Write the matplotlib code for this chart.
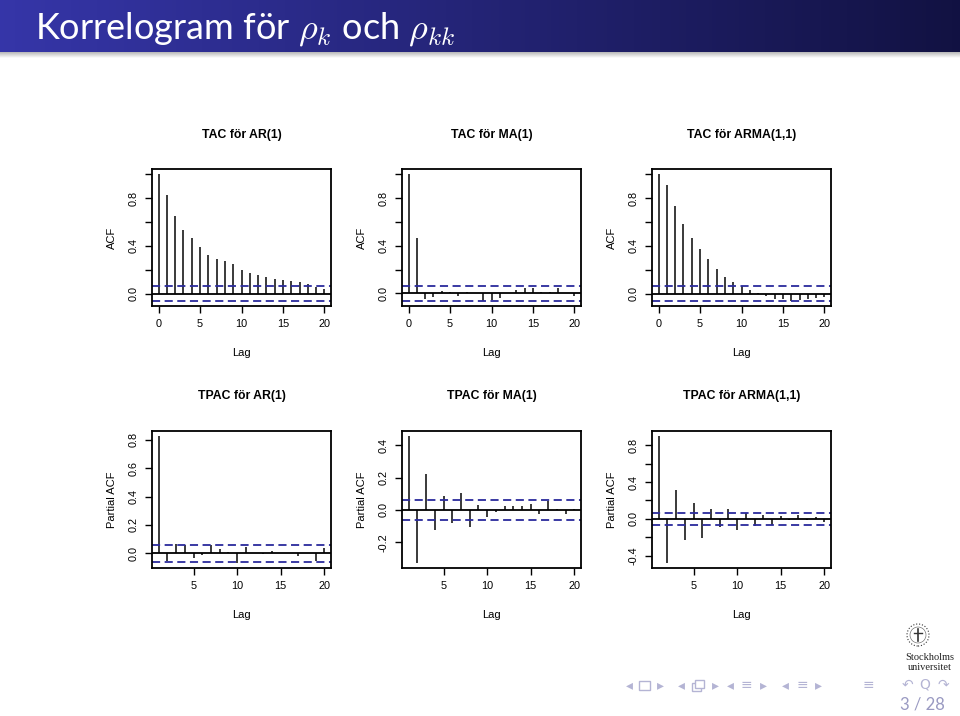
import numpy as np
import matplotlib
matplotlib.use("Agg")
import matplotlib.pyplot as plt
from matplotlib.patches import Circle, Rectangle

plt.rcParams["font.family"] = ["Liberation Sans", "DejaVu Sans"]
plt.rcParams["mathtext.fontset"] = "cm"

n_obs = 1000
lags_acf = np.arange(0, 21)
lags_pacf = np.arange(1, 21)

acf_ar = [1.0, 0.822, 0.649, 0.534, 0.464, 0.392, 0.324, 0.288, 0.269, 0.246, 0.196,
          0.169, 0.154, 0.138, 0.122, 0.113, 0.105, 0.095, 0.082, 0.054, 0.038]
acf_ma = [1.0, 0.465, -0.05, -0.027, 0.024, 0.011, -0.021, 0.015, 0.002, -0.063, -0.055,
          -0.041, 0.003, 0.031, 0.043, 0.046, 0.015, 0.015, 0.044, 0.004, -0.02]
acf_arma = [1.0, 0.907, 0.731, 0.585, 0.468, 0.373, 0.286, 0.207, 0.14, 0.093, 0.065,
            0.032, 0.004, -0.022, -0.045, -0.05, -0.062, -0.056, -0.046, -0.038, -0.028]

pacf_ar = [0.829, -0.057, 0.065, 0.057, -0.03, -0.01, 0.057, 0.032, 0.008, -0.067,
           0.042, 0.006, -0.004, 0.018, 0.005, 0.003, -0.019, 0.002, -0.055, 0.035]
pacf_ma = [0.459, -0.327, 0.224, -0.122, 0.088, -0.082, 0.104, -0.108, 0.031, -0.045,
           -0.012, 0.027, 0.022, 0.027, 0.035, -0.027, 0.053, 0.004, -0.022, 0.003]
pacf_arma = [0.905, -0.479, 0.314, -0.234, 0.169, -0.205, 0.105, -0.09, 0.112, -0.119,
             0.061, -0.083, 0.043, -0.068, 0.032, -0.012, 0.04, -0.008, 0.025, -0.03]

acf_titles = ["TAC för AR(1)", "TAC för MA(1)", "TAC för ARMA(1,1)"]
pacf_titles = ["TPAC för AR(1)", "TPAC för MA(1)", "TPAC för ARMA(1,1)"]

acf_yticks = [0.0, 0.2, 0.4, 0.6, 0.8, 1.0]
acf_ylabels = ["0.0", "", "0.4", "", "0.8", ""]
pacf_yticks = [[0.0, 0.2, 0.4, 0.6, 0.8],
               [-0.2, 0.0, 0.2, 0.4],
               [-0.4, -0.2, 0.0, 0.2, 0.4, 0.6, 0.8]]
pacf_ylabels = [["0.0", "0.2", "0.4", "0.6", "0.8"],
                ["-0.2", "0.0", "0.2", "0.4"],
                ["-0.4", "", "0.0", "", "0.4", "", "0.8"]]

W, H = 960, 716
fig = plt.figure(figsize=(W / 100, H / 100), dpi=100)

bar_col = "#3a3a3a"
band_col = "#2a2a9c"


def px_axes(x0, y0, x1, y1):
    return fig.add_axes([x0 / W, 1 - y1 / H, (x1 - x0) / W, (y1 - y0) / H])


def r_lim(lo, hi):
    d = (hi - lo) * 0.04
    return lo - d, hi + d


def corr_panel(ax, lags, vals, title, ylab, yticks, ylabels, xticks):
    clim = 1.96 / np.sqrt(n_obs)
    ax.vlines(lags, 0, vals, color=bar_col, lw=1.4)
    ax.axhline(0, color="black", lw=1.3)
    ax.axhline(clim, color=band_col, lw=1.3, ls=(0, (4.5, 2.5)))
    ax.axhline(-clim, color=band_col, lw=1.3, ls=(0, (4.5, 2.5)))
    ax.set_xlim(*r_lim(min(lags), max(lags)))
    ax.set_ylim(*r_lim(min(min(vals), -clim), max(max(vals), clim)))
    ax.set_xticks(xticks)
    ax.set_xticklabels([str(t) for t in xticks], fontsize=7.8)
    ax.set_yticks(yticks)
    ax.set_yticklabels(ylabels, fontsize=7.8, rotation=90, va="center")
    ax.tick_params(length=5, width=1.0, pad=4.5)
    for s in ax.spines.values():
        s.set_linewidth(1.3)
    ax.annotate(title, xy=(0.5, 1), xycoords="axes fraction", xytext=(0, 24.5),
                textcoords="offset points", ha="center", va="center",
                fontsize=8.8, fontweight="bold")
    ax.annotate("Lag", xy=(0.5, 0), xycoords="axes fraction", xytext=(0, -34),
                textcoords="offset points", ha="center", va="center", fontsize=8)
    ax.annotate(ylab, xy=(0, 0.5), xycoords="axes fraction", xytext=(-29, 0),
                textcoords="offset points", ha="center", va="center",
                fontsize=8, rotation=90)


cols = [152, 402, 652]
acf_data = [acf_ar, acf_ma, acf_arma]
pacf_data = [pacf_ar, pacf_ma, pacf_arma]

for i, x0 in enumerate(cols):
    ax = px_axes(x0, 169, x0 + 179, 306)
    corr_panel(ax, lags_acf, acf_data[i], acf_titles[i], "ACF",
               acf_yticks, acf_ylabels, [0, 5, 10, 15, 20])
    ax = px_axes(x0, 430.5, x0 + 179, 568)
    corr_panel(ax, lags_pacf, pacf_data[i], pacf_titles[i], "Partial ACF",
               pacf_yticks[i], pacf_ylabels[i], [5, 10, 15, 20])

# beamer title bar
bar = fig.add_axes([0, 1 - 52 / H, 1, 52 / H])
grad = np.linspace(0, 1, 256)
c0 = np.array([0.21, 0.21, 0.66])
c1 = np.array([0.07, 0.07, 0.26])
img = c0[None, :] * (1 - grad[:, None]) + c1[None, :] * grad[:, None]
bar.imshow(img[None, :, :], aspect="auto", extent=[0, 1, 0, 1])
bar.set_axis_off()
shadow = fig.add_axes([0, 1 - 58 / H, 1, 6 / H])
sh = np.linspace(0.72, 1.0, 32)
shadow.imshow(np.repeat(sh[:, None], 2, axis=1)[:, :, None].repeat(3, axis=2),
              aspect="auto", extent=[0, 1, 0, 1])
shadow.set_axis_off()
bar.text(35 / W, 0.44, r"Korrelogram för $\rho_k$ och $\rho_{kk}$", color="white",
         fontsize=26, va="center", ha="left", family=["Lato", "DejaVu Sans"],
         transform=bar.transAxes)

# navigation symbols
nav_col = "#b4b4d4"
nav = [(629, "◂"), (660, "▸"), (681, "◂"), (715, "▸"),
       (730, "◂"), (746, "≡"), (763, "▸"), (785, "◂"), (802, "≡"), (818, "▸"),
       (868, "≡"), (907, "↶"), (925, "Q"), (943, "↷")]
for x, s in nav:
    fig.text(x / W, 1 - 685 / H, s, color=nav_col, fontsize=10, ha="center",
             va="center", family=["DejaVu Sans"])
# frame and stacked-frames icons drawn as small boxes
fig.patches.append(Rectangle((639 / W, 1 - 690 / H), 11 / W, 9 / H, fill=False,
                             ec=nav_col, lw=1.0, transform=fig.transFigure))
for dx, dy in [(0, 0), (3, 3)]:
    fig.patches.append(Rectangle(((692 + dx) / W, 1 - (691 - dy) / H), 9 / W, 8 / H,
                                 fc="white", ec=nav_col, lw=1.0,
                                 transform=fig.transFigure))

fig.text(922 / W, 1 - 705 / H, "3 / 28", color="#9a9ac2", fontsize=12,
         ha="center", va="center", family=["Lato", "DejaVu Sans"])

# university logo
logo = fig.add_axes([900 / W, 1 - 650 / H, 36 / W, 30 / H])
logo.set_xlim(0, 36)
logo.set_ylim(0, 30)
logo.set_aspect("equal")
logo.add_patch(Circle((18, 15), 11, fill=False, ec="#333333", lw=0.8, ls=":"))
logo.add_patch(Circle((18, 15), 8, fill=False, ec="#555555", lw=0.4))
logo.plot([18, 18], [9, 21], color="#333333", lw=1.2)
logo.plot([14, 22], [17, 17], color="#333333", lw=1.0)
logo.set_axis_off()
fig.text(930 / W, 1 - 657 / H, "Stockholms", fontsize=7.5, ha="center", va="center",
         family=["Liberation Serif"], color="#222222")
fig.text(930 / W, 1 - 667 / H, "universitet", fontsize=7.5, ha="center", va="center",
         family=["Liberation Serif"], color="#222222")

fig.savefig("out.png", dpi=100)
